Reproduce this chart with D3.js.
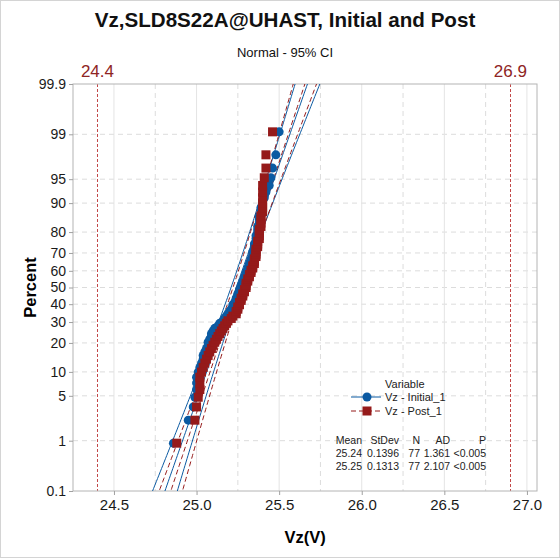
<!DOCTYPE html>
<html>
<head>
<meta charset="utf-8">
<script src="https://cdn.jsdelivr.net/npm/d3@7"></script>
<style>
    body { margin: 0; background: #fff; }
    text { font-family: "Liberation Sans", Arial, sans-serif; }
    .axis path, .axis line { stroke: #a0a0a0; }
    .axis text { fill: #1a1a1a; }
</style>
</head>
<body>
<div id="chart"></div>
<script>
// sorted Vz readings, 77 per variable
const initialVals = [24.86, 24.95, 24.98, 24.99, 25.00, 25.00, 25.00, 25.01, 25.02, 25.03,
    25.04, 25.04, 25.05, 25.06, 25.07, 25.07, 25.08, 25.09, 25.09, 25.10,
    25.11, 25.13, 25.14, 25.16, 25.17, 25.18, 25.19, 25.20, 25.21, 25.22,
    25.22, 25.23, 25.24, 25.24, 25.25, 25.25, 25.26, 25.26, 25.27, 25.27,
    25.28, 25.28, 25.29, 25.29, 25.30, 25.30, 25.31, 25.31, 25.32, 25.32,
    25.33, 25.33, 25.34, 25.34, 25.34, 25.35, 25.35, 25.35, 25.36, 25.36,
    25.36, 25.37, 25.37, 25.37, 25.38, 25.38, 25.38, 25.39, 25.39, 25.40,
    25.41, 25.42, 25.44, 25.45, 25.46, 25.48, 25.50];
const postVals = [24.88, 24.99, 25.00, 25.01, 25.02, 25.02, 25.02, 25.03, 25.04, 25.05,
    25.06, 25.07, 25.08, 25.09, 25.10, 25.11, 25.12, 25.13, 25.14, 25.15,
    25.16, 25.17, 25.18, 25.19, 25.21, 25.22, 25.24, 25.24, 25.25, 25.25,
    25.26, 25.26, 25.27, 25.27, 25.28, 25.28, 25.29, 25.29, 25.30, 25.30,
    25.30, 25.31, 25.31, 25.32, 25.32, 25.33, 25.33, 25.34, 25.34, 25.35,
    25.35, 25.35, 25.36, 25.36, 25.36, 25.36, 25.37, 25.37, 25.37, 25.38,
    25.38, 25.38, 25.38, 25.39, 25.39, 25.39, 25.39, 25.40, 25.40, 25.40,
    25.40, 25.40, 25.40, 25.41, 25.42, 25.42, 25.46];

const seriesNames = ["Vz - Initial_1", "Vz - Post_1"];
const means = [25.24, 25.25];
const stdevs = [0.1396, 0.1313];
const counts = [77, 77];
const adVals = ["1.361", "2.107"];
const pVals = ["<0.005", "<0.005"];
const specLimits = [24.4, 26.9];
const percentTicks = [0.1, 1, 5, 10, 20, 30, 40, 50, 60, 70, 80, 90, 95, 99, 99.9];
const xTicks = [24.5, 25.0, 25.5, 26.0, 26.5, 27.0];
const xMinorTicks = [24.75, 25.25, 25.75, 26.25, 26.75];

// inverse normal cdf (Acklam)
function qnorm(p) {
    const a = [-3.969683028665376e+01, 2.209460984245205e+02, -2.759285104469687e+02, 1.383577518672690e+02, -3.066479806614716e+01, 2.506628277459239e+00];
    const b = [-5.447609879822406e+01, 1.615858368580409e+02, -1.556989798598866e+02, 6.680131188771972e+01, -1.328068155288572e+01];
    const c = [-7.784894002430293e-03, -3.223964580411365e-01, -2.400758277161838e+00, -2.549732539343734e+00, 4.374664141464968e+00, 2.938163982698783e+00];
    const d = [7.784695709041462e-03, 3.224671290700398e-01, 2.445134137142996e+00, 3.754408661907416e+00];
    let q, r;
    if (p < 0.02425) {
        q = Math.sqrt(-2 * Math.log(p));
        return (((((c[0]*q+c[1])*q+c[2])*q+c[3])*q+c[4])*q+c[5]) / ((((d[0]*q+d[1])*q+d[2])*q+d[3])*q+1);
    }
    if (p > 1 - 0.02425) {
        q = Math.sqrt(-2 * Math.log(1 - p));
        return -(((((c[0]*q+c[1])*q+c[2])*q+c[3])*q+c[4])*q+c[5]) / ((((d[0]*q+d[1])*q+d[2])*q+d[3])*q+1);
    }
    q = p - 0.5; r = q * q;
    return (((((a[0]*r+a[1])*r+a[2])*r+a[3])*r+a[4])*r+a[5])*q / (((((b[0]*r+b[1])*r+b[2])*r+b[3])*r+b[4])*r+1);
}

class ProbPlot {
    constructor(series) {
        this.series = series;
        this.initVis();
    }

    initVis() {
        let vis = this;

        vis.margin = {top: 84, right: 23, bottom: 67, left: 73};
        vis.width = 560 - vis.margin.left - vis.margin.right;
        vis.height = 558 - vis.margin.top - vis.margin.bottom;

        const root = d3.select("#chart")
            .append("svg")
            .attr("width", 560)
            .attr("height", 558);

        // outer frame
        root.append("rect")
            .attr("x", 0.5).attr("y", 0.5)
            .attr("width", 559).attr("height", 557)
            .attr("fill", "none").attr("stroke", "#d4d4d4");

        vis.svg = root.append("g")
            .attr("transform", "translate(" + vis.margin.left + "," + vis.margin.top + ")");

        const x = d3.scaleLinear()
            .domain([24.252, 27.061])
            .range([0, vis.width]);

        const zMax = qnorm(0.999);
        const y = d3.scaleLinear()
            .domain([-zMax, zMax])
            .range([vis.height, 0]);

        const pz = percentTicks.map(p => qnorm(p / 100));

        // grid
        const grid = vis.svg.append("g");
        grid.selectAll(".hg")
            .data(pz.slice(1, -1))
            .join("line")
            .attr("x1", 0).attr("x2", vis.width)
            .attr("y1", d => y(d)).attr("y2", d => y(d))
            .attr("stroke", "#dcdcdc")
            .attr("stroke-dasharray", "5 4");
        grid.selectAll(".vg")
            .data(xTicks.filter(t => x(t) < vis.width - 1))
            .join("line")
            .attr("x1", d => x(d)).attr("x2", d => x(d))
            .attr("y1", 0).attr("y2", vis.height)
            .attr("stroke", "#e4e4e4");
        grid.selectAll(".vm")
            .data(xMinorTicks)
            .join("line")
            .attr("x1", d => x(d)).attr("x2", d => x(d))
            .attr("y1", 0).attr("y2", vis.height)
            .attr("stroke", "#dcdcdc")
            .attr("stroke-dasharray", "5 4");

        // spec limits
        vis.svg.selectAll(".spec")
            .data(specLimits)
            .join("line")
            .attr("x1", d => Math.round(x(d)) + 0.5).attr("x2", d => Math.round(x(d)) + 0.5)
            .attr("y1", 0).attr("y2", vis.height)
            .attr("stroke", "#c24848")
            .attr("stroke-dasharray", "3 2");
        vis.svg.selectAll(".specLbl")
            .data(specLimits)
            .join("text")
            .attr("x", d => x(d))
            .attr("y", -7)
            .attr("text-anchor", "middle")
            .attr("font-size", "17")
            .attr("fill", "#8e2424")
            .text(d => d.toFixed(1));

        // plot frame
        vis.svg.append("rect")
            .attr("width", vis.width).attr("height", vis.height)
            .attr("fill", "none").attr("stroke", "#b4b4b4");

        // axes
        vis.svg.append("g")
            .attr("class", "axis")
            .call(d3.axisLeft(y).tickValues(pz).tickSize(4).tickPadding(3)
                .tickFormat((d, i) => percentTicks[i]))
            .attr("font-size", "14");
        vis.svg.append("g")
            .attr("class", "axis")
            .attr("transform", `translate(0, ${vis.height})`)
            .call(d3.axisBottom(x).tickValues(xTicks).tickSize(4).tickPadding(4)
                .tickFormat(d3.format(".1f")))
            .attr("font-size", "15");
        vis.svg.selectAll(".axis .domain").remove();

        // fit lines + 95% CI
        root.append("clipPath").attr("id", "pc")
            .append("rect").attr("width", vis.width).attr("height", vis.height);
        const lines = vis.svg.append("g").attr("clip-path", "url(#pc)");
        const zs = d3.range(-3.3, 3.31, 0.05);
        vis.series.forEach((s, k) => {
            const m = means[k], sd = stdevs[k], n = counts[k];
            [-1, 0, 1].forEach(side => {
                const line = d3.line()
                    .x(z => x(m + z * sd + side * 1.96 * sd * Math.sqrt((1 + z * z / 2) / n)))
                    .y(z => y(z));
                lines.append("path")
                    .datum(zs)
                    .attr("d", line)
                    .attr("fill", "none")
                    .attr("stroke", s.color)
                    .attr("stroke-width", 1)
                    .attr("stroke-dasharray", s.dash);
            });
        });

        // points, Minitab median ranks
        vis.series.forEach((s, k) => {
            const n = s.values.length;
            const g = vis.svg.append("g");
            if (s.shape === "circle") {
                g.selectAll("circle")
                    .data(s.values)
                    .join("circle")
                    .attr("cx", d => x(d))
                    .attr("cy", (d, i) => y(qnorm((i + 1 - 0.3) / (n + 0.4))))
                    .attr("r", 4.5)
                    .attr("fill", s.color);
            } else {
                g.selectAll("rect")
                    .data(s.values)
                    .join("rect")
                    .attr("x", d => x(d) - 4.5)
                    .attr("y", (d, i) => y(qnorm((i + 1 - 0.3) / (n + 0.4))) - 4.5)
                    .attr("width", 9).attr("height", 9)
                    .attr("fill", s.color);
            }
        });

        // title
        root.append("text")
            .attr("x", 285).attr("y", 27)
            .attr("text-anchor", "middle")
            .attr("font-size", "20.6").attr("font-weight", "bold")
            .attr("fill", "#111")
            .text("Vz,SLD8S22A@UHAST, Initial and Post");
        root.append("text")
            .attr("x", 285).attr("y", 57)
            .attr("text-anchor", "middle")
            .attr("font-size", "13")
            .attr("fill", "#111")
            .text("Normal - 95% CI");

        // axis labels
        root.append("text")
            .attr("transform", "translate(36," + (vis.margin.top + vis.height / 2) + ") rotate(-90)")
            .attr("text-anchor", "middle")
            .attr("font-size", "16.5").attr("font-weight", "bold")
            .text("Percent");
        root.append("text")
            .attr("x", vis.margin.left + vis.width / 2)
            .attr("y", 543)
            .attr("text-anchor", "middle")
            .attr("font-size", "16.5").attr("font-weight", "bold")
            .text("Vz(V)");

        // legend
        const lg = root.append("g").attr("font-size", "11").attr("fill", "#222");
        lg.append("text").attr("x", 385).attr("y", 388).text("Variable");
        vis.series.forEach((s, k) => {
            const ly = 397 + k * 14;
            lg.append("line")
                .attr("x1", 351).attr("x2", 381)
                .attr("y1", ly).attr("y2", ly)
                .attr("stroke", s.color)
                .attr("stroke-dasharray", s.dash);
            if (s.shape === "circle") {
                lg.append("circle").attr("cx", 367).attr("cy", ly).attr("r", 4.5).attr("fill", s.color);
            } else {
                lg.append("rect").attr("x", 362.5).attr("y", ly - 4.5).attr("width", 9).attr("height", 9).attr("fill", s.color);
            }
            lg.append("text").attr("x", 385).attr("y", ly + 4).text(seriesNames[k]);
        });

        // stats table
        const cols = [362, 399, 420, 450, 486];
        const head = ["Mean", "StDev", "N", "AD", "P"];
        const tb = root.append("g").attr("font-size", "10.5").attr("fill", "#222").attr("text-anchor", "end");
        head.forEach((h, j) => tb.append("text").attr("x", cols[j]).attr("y", 444).text(h));
        means.forEach((m, k) => {
            const row = [m.toFixed(2), stdevs[k].toFixed(4), counts[k], adVals[k], pVals[k]];
            row.forEach((v, j) => tb.append("text").attr("x", cols[j]).attr("y", 457 + k * 13).text(v));
        });
    }
}

new ProbPlot([
    {values: initialVals, color: "#0b5aa2", shape: "circle", dash: null},
    {values: postVals, color: "#951a1a", shape: "square", dash: "5 3"}
]);
</script>
</body>
</html>
